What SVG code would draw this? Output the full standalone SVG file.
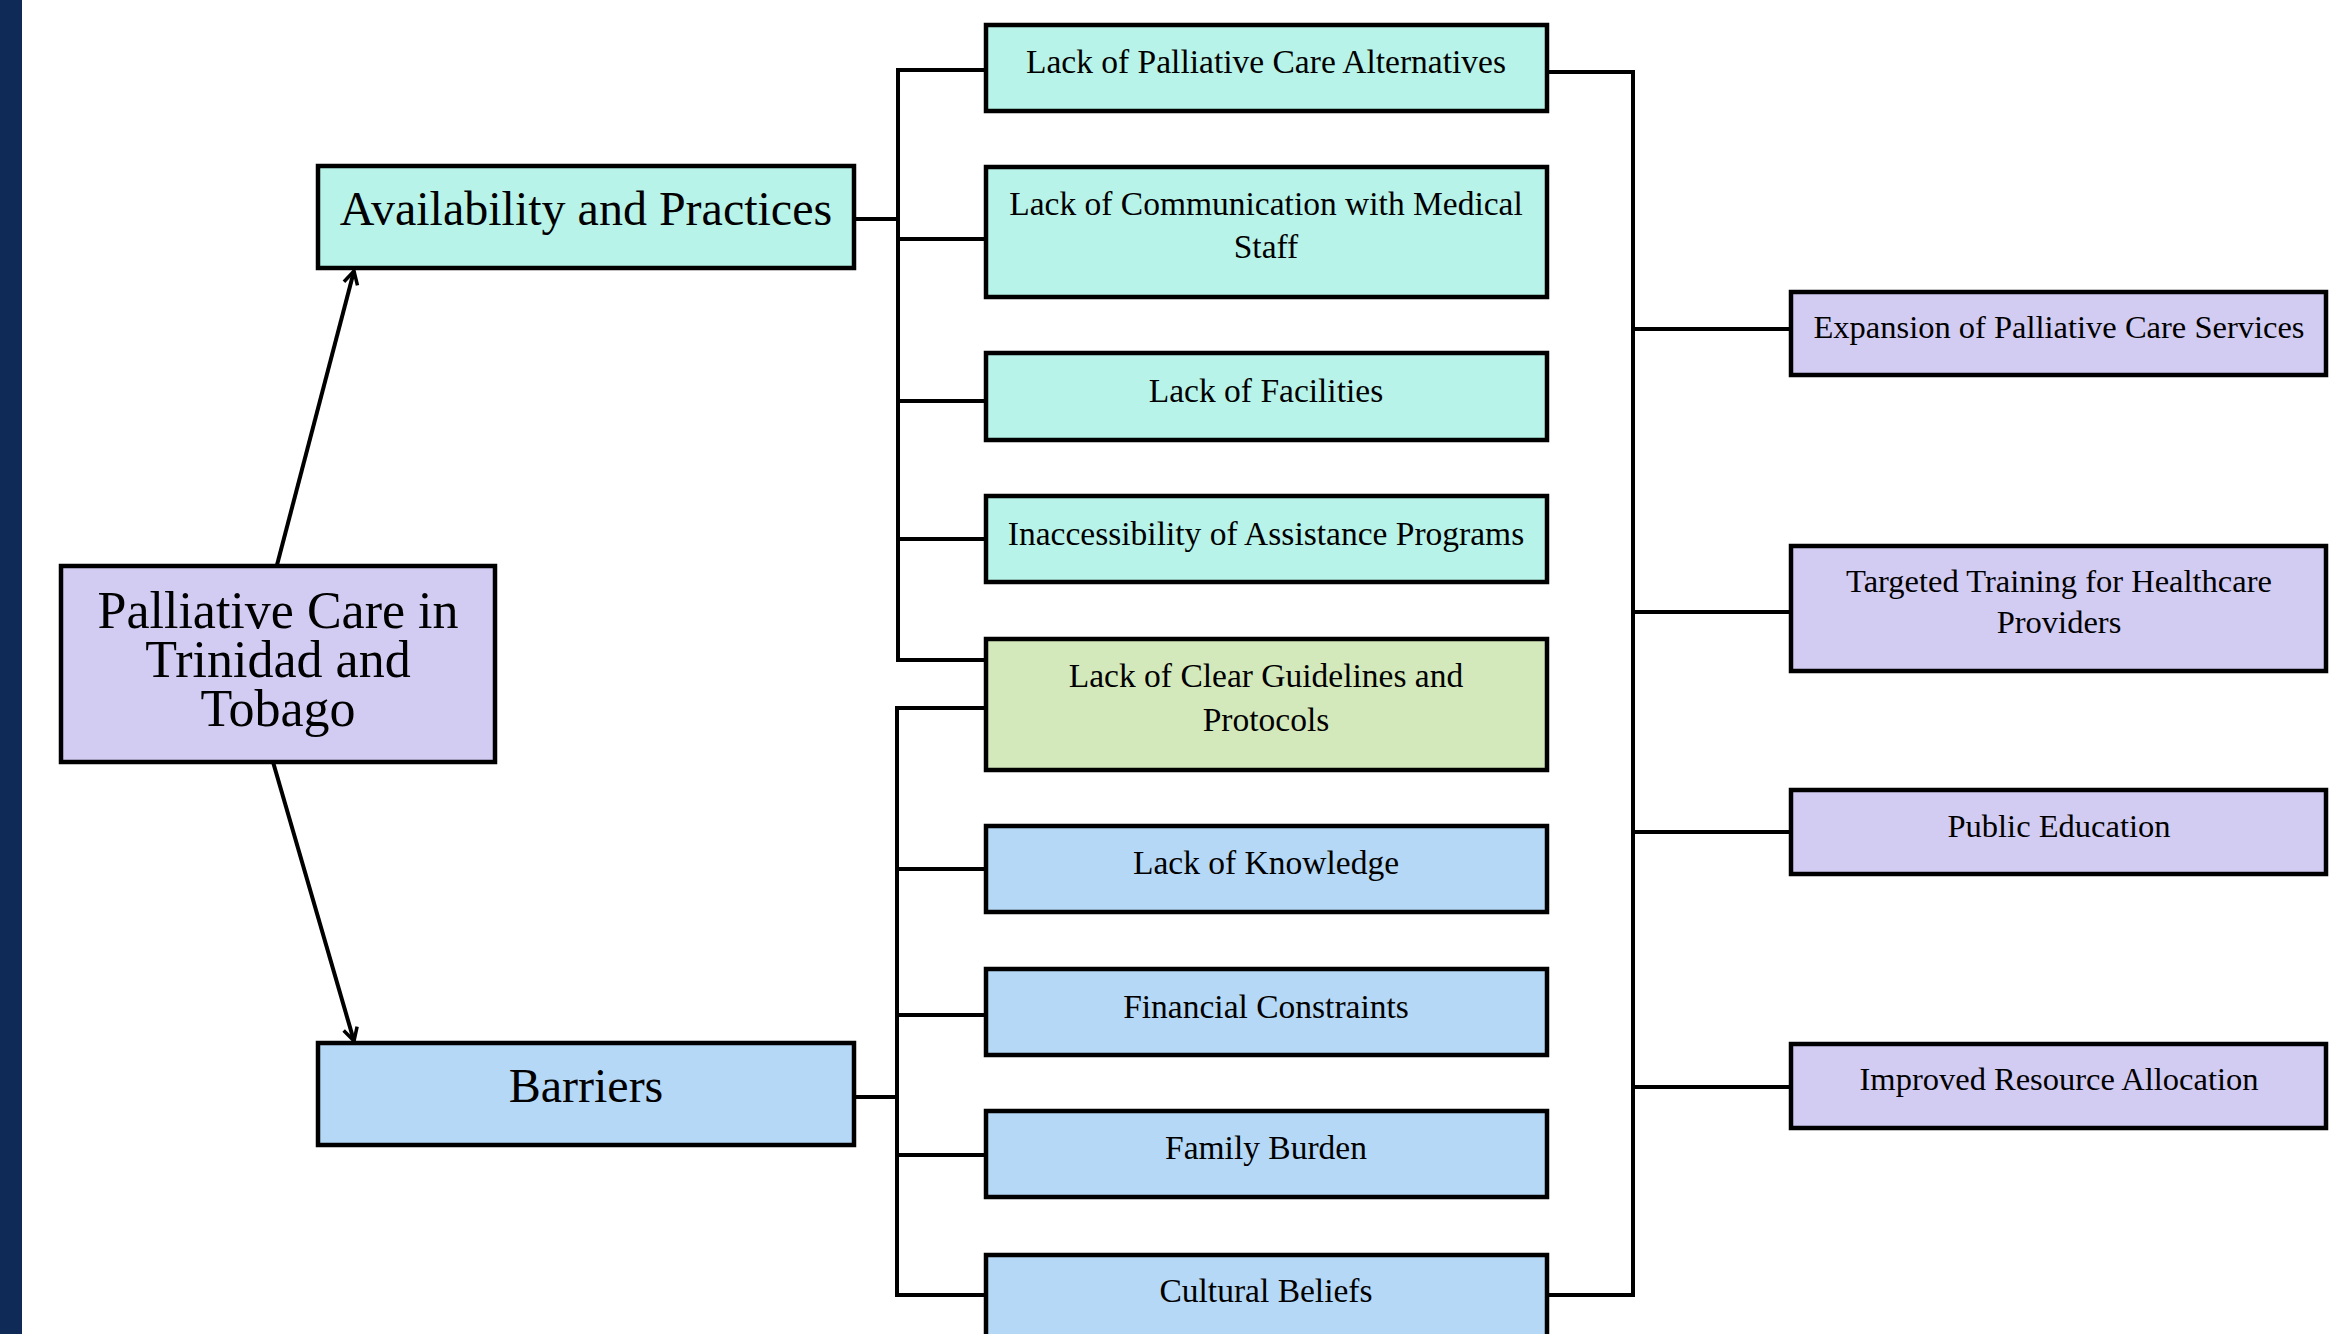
<svg xmlns="http://www.w3.org/2000/svg" width="2340" height="1334" viewBox="0 0 2340 1334">
<style>
.box{stroke:#000;stroke-width:4.5}
.teal{fill:#B7F3E8}
.lav{fill:#D2CCF3}
.blue{fill:#B5D8F6}
.green{fill:#D3E9BC}
text{font-family:"Liberation Serif","Times New Roman",serif;fill:#000;text-anchor:middle}
.big{font-size:48px}
.ctr{font-size:52px}
.mid{font-size:33.5px}
.rt{font-size:32.5px}
.ln{fill:none;stroke:#000;stroke-width:4}
</style>
<defs>
<marker id="arr" markerUnits="userSpaceOnUse" markerWidth="30" markerHeight="30" viewBox="-15 -15 30 30" refX="0" refY="0" orient="auto">
<path d="M -13 -7 L 0 0 L -13 7" fill="none" stroke="#000" stroke-width="3.5"/>
</marker>
</defs>
<rect x="0" y="0" width="2340" height="1334" fill="#fff"/>
<rect x="0" y="0" width="22" height="1334" fill="#0F2A56"/>

<g id="connectors">
<line class="ln" x1="277" y1="565" x2="354" y2="271" marker-end="url(#arr)"/>
<line class="ln" x1="273" y1="762" x2="354" y2="1041" marker-end="url(#arr)"/>
<polyline class="ln" points="986,70 898,70 898,660 986,660"/>
<line class="ln" x1="854" y1="219" x2="898" y2="219"/>
<line class="ln" x1="898" y1="239" x2="986" y2="239"/>
<line class="ln" x1="898" y1="401" x2="986" y2="401"/>
<line class="ln" x1="898" y1="539" x2="986" y2="539"/>
<polyline class="ln" points="986,708 897,708 897,1295 986,1295"/>
<line class="ln" x1="854" y1="1097" x2="897" y2="1097"/>
<line class="ln" x1="897" y1="869" x2="986" y2="869"/>
<line class="ln" x1="897" y1="1015" x2="986" y2="1015"/>
<line class="ln" x1="897" y1="1155" x2="986" y2="1155"/>
<polyline class="ln" points="1547,72 1633,72 1633,1295 1547,1295"/>
<line class="ln" x1="1633" y1="329" x2="1791" y2="329"/>
<line class="ln" x1="1633" y1="612" x2="1791" y2="612"/>
<line class="ln" x1="1633" y1="832" x2="1791" y2="832"/>
<line class="ln" x1="1633" y1="1087" x2="1791" y2="1087"/>
</g>

<g id="center">
<rect class="box lav" x="61" y="566" width="434" height="196"/>
<text class="ctr" x="278" y="628">Palliative Care in</text>
<text class="ctr" x="278" y="677">Trinidad and</text>
<text class="ctr" x="278" y="726">Tobago</text>
</g>
<g id="availability">
<rect class="box teal" x="318" y="166" width="536" height="102"/>
<text class="big" x="586" y="225">Availability and Practices</text>
</g>
<g id="barriers">
<rect class="box blue" x="318" y="1043" width="536" height="102"/>
<text class="big" x="586" y="1102">Barriers</text>
</g>

<g id="m1">
<rect class="box teal" x="986" y="25" width="561" height="86"/>
<text class="mid" x="1266" y="73">Lack of Palliative Care Alternatives</text>
</g>
<g id="m2">
<rect class="box teal" x="986" y="167" width="561" height="130"/>
<text class="mid" x="1266" y="215">Lack of Communication with Medical</text>
<text class="mid" x="1266" y="258">Staff</text>
</g>
<g id="m3">
<rect class="box teal" x="986" y="353" width="561" height="87"/>
<text class="mid" x="1266" y="402">Lack of Facilities</text>
</g>
<g id="m4">
<rect class="box teal" x="986" y="496" width="561" height="86"/>
<text class="mid" x="1266" y="545">Inaccessibility of Assistance Programs</text>
</g>
<g id="m5">
<rect class="box green" x="986" y="639" width="561" height="131"/>
<text class="mid" x="1266" y="687">Lack of Clear Guidelines and</text>
<text class="mid" x="1266" y="731">Protocols</text>
</g>
<g id="m6">
<rect class="box blue" x="986" y="826" width="561" height="86"/>
<text class="mid" x="1266" y="874">Lack of Knowledge</text>
</g>
<g id="m7">
<rect class="box blue" x="986" y="969" width="561" height="86"/>
<text class="mid" x="1266" y="1018">Financial Constraints</text>
</g>
<g id="m8">
<rect class="box blue" x="986" y="1111" width="561" height="86"/>
<text class="mid" x="1266" y="1159">Family Burden</text>
</g>
<g id="m9">
<rect class="box blue" x="986" y="1255" width="561" height="90"/>
<text class="mid" x="1266" y="1302">Cultural Beliefs</text>
</g>

<g id="r1">
<rect class="box lav" x="1791" y="292" width="535" height="83"/>
<text class="rt" x="2059" y="338">Expansion of Palliative Care Services</text>
</g>
<g id="r2">
<rect class="box lav" x="1791" y="546" width="535" height="125"/>
<text class="rt" x="2059" y="592">Targeted Training for Healthcare</text>
<text class="rt" x="2059" y="633">Providers</text>
</g>
<g id="r3">
<rect class="box lav" x="1791" y="790" width="535" height="84"/>
<text class="rt" x="2059" y="837">Public Education</text>
</g>
<g id="r4">
<rect class="box lav" x="1791" y="1044" width="535" height="84"/>
<text class="rt" x="2059" y="1090">Improved Resource Allocation</text>
</g>
</svg>
